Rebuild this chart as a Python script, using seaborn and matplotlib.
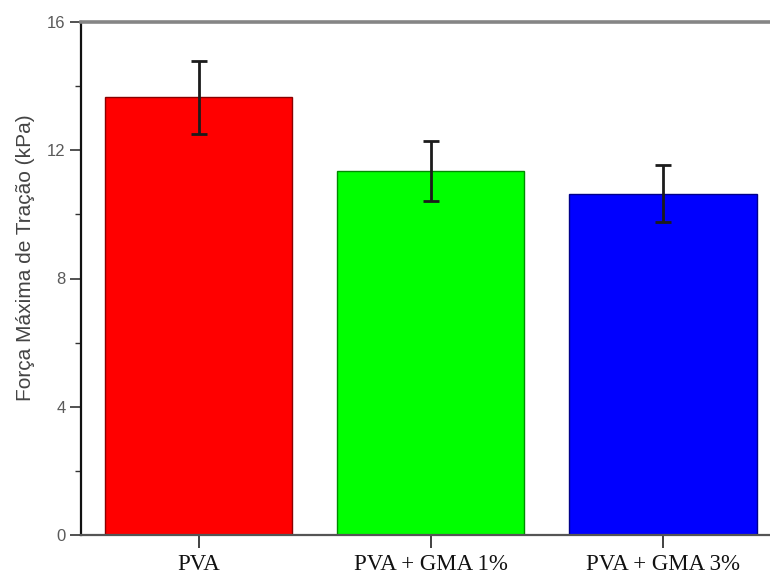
import matplotlib
matplotlib.use("Agg")
import matplotlib.pyplot as plt
from matplotlib.ticker import MultipleLocator
import seaborn as sns
import pandas as pd

# Maximum tensile force per formulation (mean and standard deviation, kPa)
categories = ["PVA", "PVA + GMA 1%", "PVA + GMA 3%"]
means = [13.65, 11.36, 10.65]
errors = [1.13, 0.93, 0.88]
bar_colors = ["#ff0000", "#00ff00", "#0000ff"]
edge_colors = ["#8a0000", "#008a00", "#00008a"]
y_ticks = [0, 4, 8, 12, 16]

sns.set_style("ticks")
plt.rcParams["font.family"] = ["Liberation Sans", "DejaVu Sans"]

df = pd.DataFrame({"grupo": categories, "forca": means})

fig = plt.figure(figsize=(7.7, 5.74), dpi=100)
ax = fig.add_axes([81 / 770, 39 / 574, 700 / 770, 513 / 574])

sns.barplot(data=df, x="grupo", y="forca", hue="grupo", palette=bar_colors,
            width=0.807, errorbar=None, legend=False, ax=ax, saturation=1)
for patch, ec in zip(ax.patches, edge_colors):
    patch.set_edgecolor(ec)
    patch.set_linewidth(1.0)

ax.errorbar(range(len(categories)), means, yerr=errors, fmt="none",
            ecolor="#1c1c1c", elinewidth=2, capsize=6, capthick=2, zorder=5)

ax.set_xlim(-0.507, 2.466 + 0.043)
ax.set_ylim(0, 16)
ax.set_yticks(y_ticks)
ax.yaxis.set_minor_locator(MultipleLocator(2))
ax.set_xticks(range(len(categories)))
ax.set_xticklabels(categories, fontfamily=["Liberation Serif", "DejaVu Serif"],
                   fontsize=16.5, color="#111111")
ax.tick_params(axis="y", which="major", direction="out", length=8, width=1.2,
               colors="#333333", labelcolor="#5a5a5a", labelsize=12, pad=3)
ax.tick_params(axis="y", which="minor", direction="out", length=4, width=1.0,
               colors="#333333")
ax.tick_params(axis="x", which="major", direction="out", length=9, width=1.3,
               colors="#333333", labelcolor="#111111", pad=5)

ax.set_xlabel("")
ax.set_ylabel("Força Máxima de Tração (kPa)", fontsize=15, color="#444444")
ax.yaxis.set_label_coords(-0.065, 0.54)

ax.spines["right"].set_visible(False)
ax.spines["left"].set_color("#111111")
ax.spines["left"].set_linewidth(1.6)
ax.spines["top"].set_color("#858585")
ax.spines["top"].set_linewidth(2.6)
ax.spines["bottom"].set_color("#555555")
ax.spines["bottom"].set_linewidth(1.6)

fig.savefig("out.png", dpi=100)
